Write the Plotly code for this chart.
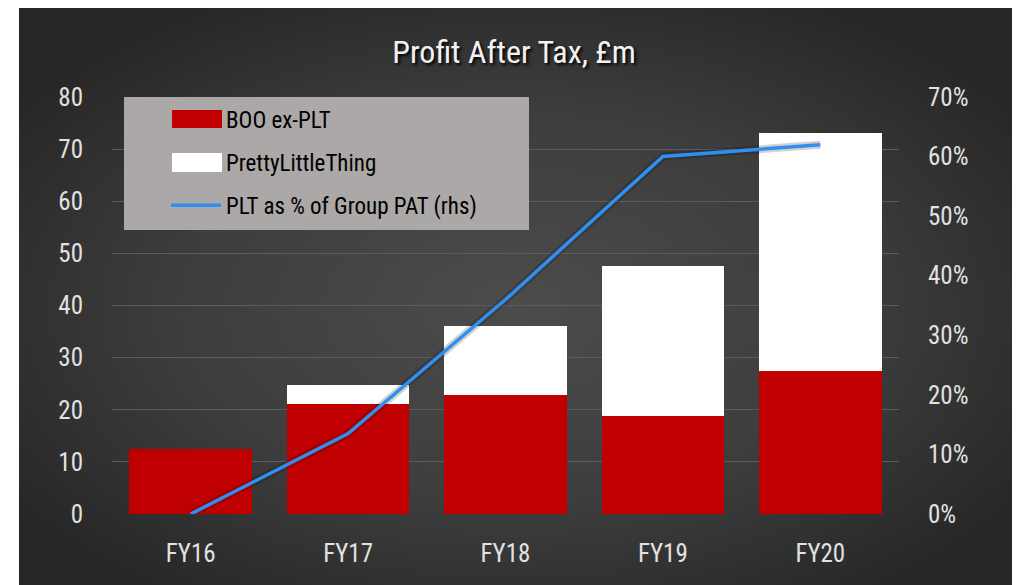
import base64
import plotly.graph_objects as go

categories = ["FY16", "FY17", "FY18", "FY19", "FY20"]
boo_ex_plt = [12.5, 21.1, 22.9, 18.8, 27.4]
plt_vals = [0.0, 3.6, 13.2, 28.8, 45.6]
plt_share = [0.0, 13.5, 36.0, 60.0, 62.0]
left_ticks = [0, 10, 20, 30, 40, 50, 60, 70, 80]
right_ticks = [0, 10, 20, 30, 40, 50, 60, 70]

FONT = "Roboto Condensed, Open Sans Condensed, sans-serif"
TXT = "#E2E2E2"

svg = """<svg xmlns='http://www.w3.org/2000/svg' width='1000' height='580' viewBox='0 0 1000 580' preserveAspectRatio='none'>
<defs><radialGradient id='g' cx='50%' cy='52%' r='62%' fx='50%' fy='52%'>
<stop offset='0%' stop-color='#4c4c4c'/><stop offset='55%' stop-color='#3d3d3d'/><stop offset='100%' stop-color='#262626'/>
</radialGradient></defs><rect width='1000' height='580' fill='url(#g)'/></svg>"""
bg_uri = "data:image/svg+xml;base64," + base64.b64encode(svg.encode()).decode()

# figure is placed by the page at an 8px offset; all pixel positions below are figure pixels
W, H = 1012, 577
L, R, T, B = 104, 121, 89, 71
pw, ph = W - L - R, H - T - B


def px_x(p):
    return (p - L) / pw


def px_y(p):
    return (H - B - p) / ph


def rect(x0, x1, y0, y1, color):
    return dict(type="rect", xref="paper", yref="paper",
                x0=px_x(x0), x1=px_x(x1), y0=px_y(y1), y1=px_y(y0),
                fillcolor=color, line=dict(width=0), layer="above")


fig = go.Figure()
fig.add_trace(go.Bar(x=categories, y=boo_ex_plt, name="BOO ex-PLT",
                     marker=dict(color="#C00000", line=dict(width=0)),
                     legendgroup="a", yaxis="y"))
fig.add_trace(go.Bar(x=categories, y=plt_vals, name="PrettyLittleThing",
                     marker=dict(color="#FFFFFF", line=dict(width=0)),
                     legendgroup="b", yaxis="y"))
fig.add_trace(go.Scatter(x=categories, y=plt_share, mode="lines", showlegend=False,
                         hoverinfo="skip", line=dict(color="rgba(0,0,0,0.18)", width=8),
                         yaxis="y2"))
fig.add_trace(go.Scatter(x=categories, y=plt_share, name="PLT as % of Group PAT (rhs)",
                         mode="lines", line=dict(color="#2F8FF2", width=3.5),
                         legendgroup="c", yaxis="y2"))

fig.update_layout(
    width=W, height=H,
    margin=dict(l=L, r=R, t=T, b=B, autoexpand=False),
    paper_bgcolor="#FFFFFF",
    plot_bgcolor="rgba(0,0,0,0)",
    barmode="stack",
    bargap=0.22,
    font=dict(family=FONT, color=TXT, size=25),
    title=dict(text="Profit After Tax, £m", x=0.5, xref="container", xanchor="center",
               y=1 - 44 / H, yref="container", yanchor="middle",
               font=dict(family=FONT, size=32, color="#F2F2F2", shadow="2px 2px 3px #000000")),
    xaxis=dict(showgrid=False, showline=False, ticks="", tickfont=dict(size=25, color=TXT),
               ticklabelstandoff=22),
    yaxis=dict(range=[0, 80], tickvals=left_ticks, ticktext=[str(v) for v in left_ticks],
               showgrid=True, gridcolor="#5C5C5C", gridwidth=1, zeroline=False,
               showline=False, ticks="", tickfont=dict(size=25, color=TXT),
               ticklabelstandoff=28),
    yaxis2=dict(range=[0, 70], tickvals=right_ticks, ticktext=[f"{v}%" for v in right_ticks],
                overlaying="y", side="right", showgrid=False, zeroline=False,
                showline=False, ticks="", tickfont=dict(size=25, color=TXT),
                ticklabelstandoff=28),
    legend=dict(x=px_x(158), y=px_y(90), xanchor="left", yanchor="top",
                bgcolor="rgba(0,0,0,0)", font=dict(family=FONT, size=23, color="#000000"),
                itemwidth=50, tracegroupgap=10, traceorder="grouped"),
    showlegend=True,
    images=[dict(source=bg_uri, xref="paper", yref="paper",
                 x=px_x(11), y=px_y(0), sizex=px_x(1005) - px_x(11), sizey=px_y(0) - px_y(577),
                 xanchor="left", yanchor="top", sizing="stretch", layer="below")],
    shapes=[
        rect(116, 521, 89, 222, "#ABA8A7"),
        rect(164, 214, 102, 120, "#C00000"),
        rect(164, 214, 145, 164, "#FFFFFF"),
    ],
)

fig.write_html("out.html")
